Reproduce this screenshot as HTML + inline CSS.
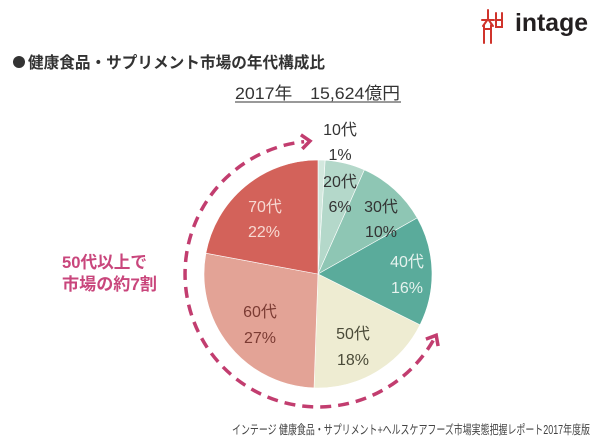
<!DOCTYPE html>
<html>
<head>
<meta charset="utf-8">
<style>
html,body{margin:0;padding:0;background:#fff;}
svg{display:block;}
text{font-family:"Liberation Sans","Noto Sans CJK JP",sans-serif;}
</style>
</head>
<body>
<svg width="600" height="445" viewBox="0 0 600 445" xmlns="http://www.w3.org/2000/svg">
<rect width="600" height="445" fill="#fff"/>

<!-- Logo -->
<g stroke="#d0342c" stroke-width="2" fill="none" stroke-linecap="round">
  <line x1="488" y1="10" x2="488" y2="18"/>
  <line x1="482" y1="20" x2="494" y2="20"/>
  <path d="M483 26 L488 19 L493 26"/>
  <path d="M484 25 L484 43"/>
  <path d="M491 25 L491 43"/>
  <line x1="484" y1="29" x2="491" y2="29"/>
  <path d="M496 13 L496 27 L502 27 L502 13"/>
  <line x1="496" y1="20" x2="502" y2="20"/>
</g>
<text x="515" y="31" font-size="25" font-weight="bold" fill="#231f20" textLength="73" lengthAdjust="spacingAndGlyphs" style="font-family:'Liberation Sans',sans-serif">intage</text>

<!-- Title -->
<circle cx="19" cy="62" r="6" fill="#333"/>
<text x="28" y="68" font-size="16" font-weight="bold" fill="#333" textLength="297" lengthAdjust="spacingAndGlyphs">健康食品・サプリメント市場の年代構成比</text>

<!-- Subtitle -->
<text x="235" y="99" font-size="17" fill="#333" textLength="165" lengthAdjust="spacingAndGlyphs">2017年　15,624億円</text>
<line x1="235" y1="102" x2="401" y2="102" stroke="#333" stroke-width="1"/>

<!-- Pie -->
<g stroke="#ffffff" stroke-width="0.6" stroke-linejoin="round">
  <path d="M318 274 L318 160 A114 114 0 0 1 325.16 160.22 Z" fill="#d3e8de"/>
  <path d="M318 274 L325.16 160.22 A114 114 0 0 1 364.37 169.86 Z" fill="#b4d8ca"/>
  <path d="M318 274 L364.37 169.86 A114 114 0 0 1 417.22 217.87 Z" fill="#8ec6b4"/>
  <path d="M318 274 L417.22 217.87 A114 114 0 0 1 420.02 324.87 Z" fill="#5aab9b"/>
  <path d="M318 274 L420.02 324.87 A114 114 0 0 1 314.02 387.93 Z" fill="#eeecd2"/>
  <path d="M318 274 L314.02 387.93 A114 114 0 0 1 205.90 253.23 Z" fill="#e3a396"/>
  <path d="M318 274 L205.90 253.23 A114 114 0 0 1 318 160 Z" fill="#d3625a"/>
</g>

<!-- Labels -->
<g font-size="16" text-anchor="middle">
  <text x="340" y="135" fill="#333">10代</text>
  <text x="340" y="160" fill="#333">1%</text>
  <text x="340" y="187" fill="#333">20代</text>
  <text x="340" y="212" fill="#333">6%</text>
  <text x="381" y="212" fill="#333">30代</text>
  <text x="381" y="237" fill="#333">10%</text>
  <text x="407" y="267" fill="#e6f2ee">40代</text>
  <text x="407" y="293" fill="#e6f2ee">16%</text>
  <text x="353" y="339" fill="#4a4a38">50代</text>
  <text x="353" y="365" fill="#4a4a38">18%</text>
  <text x="260" y="317" fill="#7b3b33">60代</text>
  <text x="260" y="343" fill="#7b3b33">27%</text>
  <text x="265" y="212" fill="#f7d9d2">70代</text>
  <text x="264" y="237" fill="#f7d9d2">22%</text>
</g>

<!-- Dashed arc arrow -->
<path d="M433.2 340.5 A133 133 0 1 1 304.1 141.7" fill="none" stroke="#c23d6f" stroke-width="3.5" stroke-dasharray="11 7"/>
<polyline points="300.9,134.8 310,141 302.3,148.9" fill="none" stroke="#c23d6f" stroke-width="3.5" stroke-linejoin="miter" stroke-linecap="butt"/>
<polyline points="425.9,339.1 436.2,335.3 438.1,346.1" fill="none" stroke="#c23d6f" stroke-width="3.5" stroke-linejoin="miter" stroke-linecap="butt"/>

<!-- Left callout -->
<text x="62" y="268" font-size="17" font-weight="bold" fill="#c9467c" textLength="85" lengthAdjust="spacingAndGlyphs">50代以上で</text>
<text x="62" y="290" font-size="17" font-weight="bold" fill="#c9467c" textLength="95" lengthAdjust="spacingAndGlyphs">市場の約7割</text>

<!-- Footer -->
<text x="232" y="434" font-size="12.5" fill="#444" textLength="358" lengthAdjust="spacingAndGlyphs">インテージ 健康食品・サプリメント+ヘルスケアフーズ市場実態把握レポート2017年度版</text>
</svg>
</body>
</html>
